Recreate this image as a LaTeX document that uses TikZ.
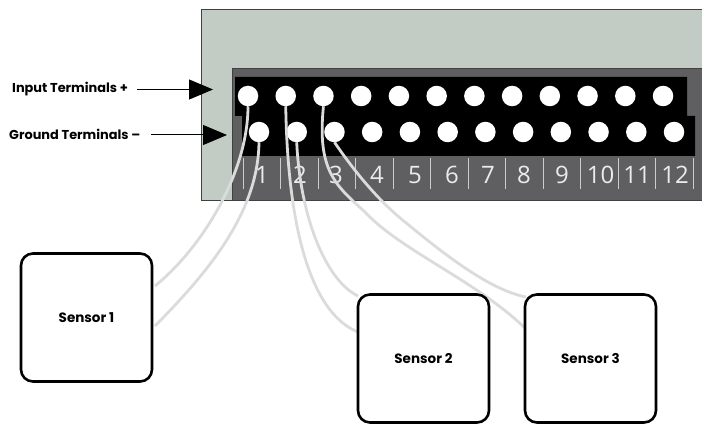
\documentclass[tikz,border=0pt]{standalone}
\usepackage{fontspec}
\setmainfont{Poppins}
\newfontfamily\digitfont{Open Sans}
\usepackage{tikz}
\usetikzlibrary{arrows.meta}
\definecolor{panelgreen}{HTML}{C2CCC4}
\definecolor{paneldark}{HTML}{5F5F61}
\definecolor{wiregray}{HTML}{DADBDB}
\tikzset{
  terminal/.style={circle, fill=white, minimum size=20.5pt, inner sep=0pt, outer sep=0pt},
  sensorbox/.style={draw=black, fill=white, line width=2.6pt, rounded corners=12pt, minimum width=131pt, minimum height=128pt, inner sep=0pt, outer sep=0pt, font=\bfseries\fontsize{13.5}{15}\selectfont},
  wire/.style={draw=wiregray, line width=2.8pt},
  pointer/.style={line width=1pt, -{Triangle[length=24pt,width=20pt]}},
  caption/.style={anchor=west, inner sep=0pt, font=\bfseries\fontsize{12.9}{15}\selectfont},
  digit/.style={text=white!92!black, inner sep=0pt, font=\digitfont\fontsize{24}{26}\selectfont}
}
\begin{document}
\begin{tikzpicture}[x=1pt, y=-1pt]
\useasboundingbox (0,0) rectangle (702,425);
\fill[panelgreen, draw=black!75, line width=0.7pt] (201,9) -- (702,9) -- (702,200) -- (201,200) -- cycle;
\fill[paneldark, draw=black!75, line width=0.7pt] (232,68) -- (702,68) -- (702,200) -- (232,200) -- cycle;
\fill[black] (235,77) -- (687,77) -- (687,116) -- (695,116) -- (695,156) -- (242,156) -- (242,116) -- (235,116) -- cycle;

\foreach \i in {0,...,12} {
  \draw[white!80!black, line width=0.8pt] ({243+37.5*\i},158) -- ({243+37.5*\i},189);
}
\foreach \n/\x in {1/262, 2/300, 3/336, 4/377, 5/415, 6/452, 7/488, 8/524, 9/562, 10/600.5, 11/637, 12/675} {
  \node[digit] (num\n) at (\x,175) {\n};
}
\foreach \i in {1,...,12} {
  \node[terminal] (in\i) at ({248+37.73*(\i-1)},96) {};
  \node[terminal] (gnd\i) at ({259+37.73*(\i-1)},132) {};
}

\node[caption] (inputlabel) at (12,89) {Input Terminals +};
\node[caption] (groundlabel) at (9,134) {Ground Terminals –};
\coordinate (inputstart) at (137,89.5);
\coordinate (inputtip) at (213,89.5);
\coordinate (groundstart) at (151,135);
\coordinate (groundtip) at (227,135);
\draw[pointer] (inputstart) -- (inputtip);
\draw[pointer] (groundstart) -- (groundtip);

\coordinate (onetop) at (155,286);
\coordinate (onelow) at (155,326);
\coordinate (twotop) at (358,296);
\coordinate (twolow) at (358,332);
\coordinate (threetop) at (526,297);
\coordinate (threelow) at (525,328);
\coordinate (viaupper) at (365,212);
\coordinate (vialower) at (405,222);

\draw[wire] (in1.south) .. controls (248,170) and (205,245) .. (onetop);
\draw[wire] (gnd1.south) .. controls (258,215) and (205,275) .. (onelow);
\draw[wire] (in2.south) .. controls (288,240) and (315,315) .. (twolow);
\draw[wire] (gnd2.south) .. controls (300,215) and (325,280) .. (twotop);
\draw[wire] (in3.south) .. controls (317,170) and (335,185) .. (viaupper) .. controls (400,250) and (475,280) .. (threelow);
\draw[wire] (gnd3.south) .. controls (350,165) and (375,198) .. (vialower) .. controls (445,255) and (490,290) .. (threetop);

\node[sensorbox] (sensorone) at (86.5,317.5) {Sensor 1};
\node[sensorbox] (sensortwo) at (423.5,358.5) {Sensor 2};
\node[sensorbox] (sensorthree) at (590.5,358.5) {Sensor 3};
\end{tikzpicture}
\end{document}
